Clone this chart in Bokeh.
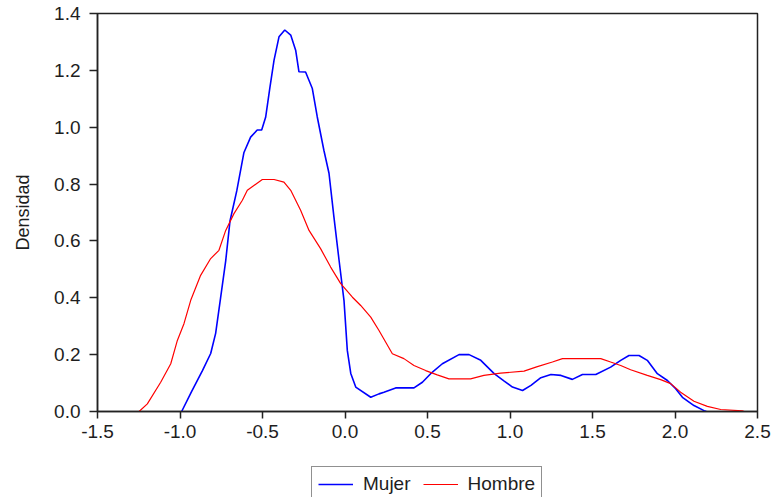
from bokeh.plotting import figure
from bokeh.models import Range1d, FixedTicker, PrintfTickFormatter, Legend, LegendItem
from bokeh.layouts import column
from bokeh.embed import file_html
from bokeh.resources import INLINE

# Data
mujer_x = [-0.99, -0.93, -0.864, -0.814, -0.784, -0.754, -0.723, -0.697, -0.656, -0.613, -0.572,
           -0.532, -0.505, -0.481, -0.455, -0.43, -0.40, -0.365, -0.329, -0.299, -0.279, -0.239,
           -0.198, -0.168, -0.128, -0.097, -0.067, -0.036, -0.006, 0.014, 0.035, 0.065, 0.156,
           0.206, 0.236, 0.307, 0.418, 0.469, 0.519, 0.59, 0.691, 0.752, 0.823, 0.904, 0.965,
           1.015, 1.076, 1.127, 1.187, 1.248, 1.309, 1.378, 1.439, 1.52, 1.61, 1.671, 1.721,
           1.782, 1.832, 1.893, 1.954, 2.004, 2.045, 2.115, 2.176, 2.19]
mujer_y = [0.0, 0.07, 0.144, 0.204, 0.275, 0.40, 0.53, 0.67, 0.776, 0.91, 0.965,
           0.99, 0.99, 1.035, 1.14, 1.236, 1.318, 1.342, 1.324, 1.271, 1.195, 1.194,
           1.136, 1.036, 0.919, 0.838, 0.684, 0.532, 0.39, 0.215, 0.134, 0.086, 0.05,
           0.062, 0.068, 0.083, 0.083, 0.103, 0.133, 0.168, 0.20, 0.20, 0.18, 0.133, 0.107,
           0.086, 0.074, 0.092, 0.119, 0.13, 0.127, 0.113, 0.13, 0.13, 0.156, 0.18, 0.197,
           0.197, 0.18, 0.133, 0.109, 0.08, 0.05, 0.021, 0.003, 0.0]

hombre_x = [-1.248, -1.198, -1.117, -1.056, -1.016, -0.976, -0.935, -0.875, -0.814, -0.764,
            -0.723, -0.673, -0.622, -0.592, -0.501, -0.43, -0.37, -0.329, -0.269, -0.218,
            -0.148, -0.087, -0.026, 0.045, 0.095, 0.156, 0.206, 0.287, 0.357, 0.418, 0.489,
            0.559, 0.630, 0.761, 0.842, 0.943, 1.085, 1.166, 1.257, 1.318, 1.368, 1.55, 1.61,
            1.671, 1.731, 1.832, 1.913, 1.974, 2.034, 2.115, 2.196, 2.277, 2.408, 2.42]
hombre_y = [0.0, 0.027, 0.103, 0.168, 0.25, 0.309, 0.391, 0.479, 0.538, 0.567,
            0.637, 0.696, 0.743, 0.778, 0.816, 0.816, 0.807, 0.778, 0.708, 0.637,
            0.573, 0.508, 0.45, 0.402, 0.373, 0.332, 0.285, 0.203, 0.186, 0.162, 0.144,
            0.129, 0.115, 0.115, 0.127, 0.135, 0.142, 0.158, 0.174, 0.186, 0.186, 0.186, 0.174,
            0.162, 0.147, 0.127, 0.112, 0.098, 0.068, 0.036, 0.018, 0.007, 0.002, 0.0]

series_names = ["Mujer", "Hombre"]
series_colors = ["#0000ff", "#ff0000"]

x_ticks = [-1.5, -1.0, -0.5, 0.0, 0.5, 1.0, 1.5, 2.0, 2.5]
y_ticks = [0.0, 0.2, 0.4, 0.6, 0.8, 1.0, 1.2, 1.4]

FONT = "Liberation Sans"
TXT = "#1e1e1e"

# ---- main chart ----
p = figure(width=772, height=463,
           min_border_left=97, min_border_right=15, min_border_top=13, min_border_bottom=52,
           x_range=Range1d(x_ticks[0], x_ticks[-1]), y_range=Range1d(y_ticks[0], y_ticks[-1]),
           output_backend="svg", toolbar_location=None)

p.background_fill_color = "white"
p.border_fill_color = "white"
p.outline_line_color = "#222222"
p.outline_line_width = 1.5
p.xgrid.visible = False
p.ygrid.visible = False

for ax in (p.xaxis[0], p.yaxis[0]):
    ax.axis_line_color = "#222222"
    ax.axis_line_width = 1.5
    ax.major_tick_line_color = "#222222"
    ax.major_tick_line_width = 1.5
    ax.major_tick_in = 0
    ax.minor_tick_line_color = None
    ax.major_label_text_font = FONT
    ax.major_label_text_font_size = "19px"
    ax.major_label_text_color = TXT
    ax.formatter = PrintfTickFormatter(format="%.1f")

p.xaxis[0].ticker = FixedTicker(ticks=x_ticks)
p.yaxis[0].ticker = FixedTicker(ticks=y_ticks)
p.xaxis[0].major_tick_out = 7
p.yaxis[0].major_tick_out = 8
p.xaxis[0].major_label_standoff = 6
p.yaxis[0].major_label_standoff = 9

p.yaxis[0].axis_label = "Densidad"
p.yaxis[0].axis_label_text_font = FONT
p.yaxis[0].axis_label_text_font_size = "18px"
p.yaxis[0].axis_label_text_font_style = "normal"
p.yaxis[0].axis_label_text_color = TXT
p.yaxis[0].axis_label_standoff = 18

p.line(mujer_x, mujer_y, line_color=series_colors[0], line_width=1.6)
p.line(hombre_x, hombre_y, line_color=series_colors[1], line_width=1.2)

# ---- legend strip below the chart (same series, lines kept out of view) ----
q = figure(width=772, height=34, min_border_left=0, min_border_right=0,
           min_border_top=0, min_border_bottom=0,
           x_axis_location=None, y_axis_location=None,
           x_range=Range1d(10, 11), y_range=Range1d(10, 11),
           output_backend="svg", toolbar_location=None)
q.outline_line_color = None
q.background_fill_color = "white"
q.border_fill_color = "white"
q.grid.visible = False

r_m = q.line(mujer_x, mujer_y, line_color=series_colors[0], line_width=1.6)
r_h = q.line(hombre_x, hombre_y, line_color=series_colors[1], line_width=1.2)

legend = Legend(items=[LegendItem(label=series_names[0], renderers=[r_m]),
                       LegendItem(label=series_names[1], renderers=[r_h])],
                orientation="horizontal", location=(214, -5))
legend.label_text_font = FONT
legend.label_text_font_size = "19px"
legend.label_text_color = TXT
legend.glyph_width = 35
legend.label_standoff = 10
legend.spacing = 12
legend.padding = 6
legend.margin = 0
legend.border_line_color = "#222222"
legend.border_line_width = 1.5
legend.background_fill_color = "white"
legend.background_fill_alpha = 1.0
q.add_layout(legend, "center")

layout = column(p, q, spacing=0)
open("out.html", "w").write(file_html(layout, INLINE))
